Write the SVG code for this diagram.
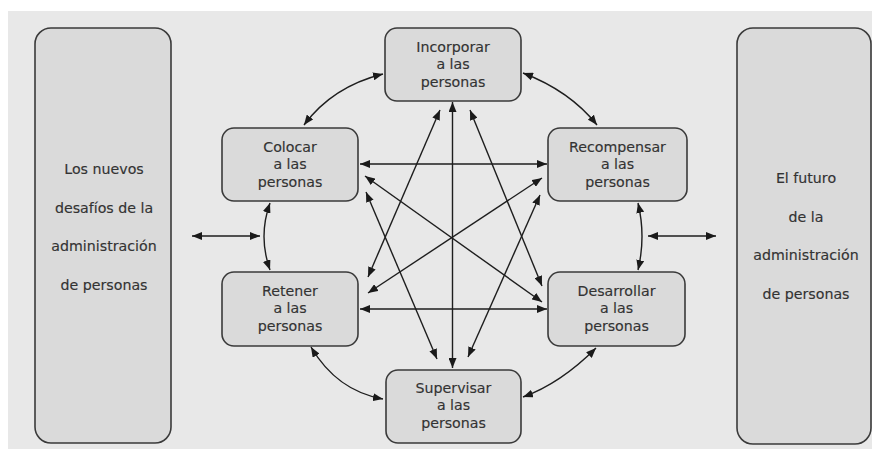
<svg xmlns="http://www.w3.org/2000/svg" width="872" height="449" viewBox="0 0 872 449">
<style>
.box{fill:#dadada;stroke:#3a3a3a;stroke-width:1.6}
.t{font-family:"DejaVu Sans","Liberation Sans",Arial,sans-serif;font-size:14.2px;fill:#333;text-anchor:middle;stroke:#333;stroke-width:0.15}
.c{fill:none;stroke:#1e1e1e;stroke-width:1.4;marker-start:url(#ah);marker-end:url(#ah)}
</style>
<defs>
<marker id="ah" viewBox="0 0 10 8" refX="10" refY="4" markerWidth="10" markerHeight="8" markerUnits="userSpaceOnUse" orient="auto-start-reverse">
<path d="M0,0 L10,4 L0,8 z" fill="#1a1a1a"/>
</marker>
</defs>
<rect x="0" y="0" width="872" height="449" fill="#ffffff"/>
<rect x="8" y="11" width="864" height="438" fill="#e8e8e8"/>

<g id="left-box">
<rect class="box" x="35" y="28" width="136" height="415" rx="16"/>
<text class="t" x="104" y="174">Los nuevos</text>
<text class="t" x="104" y="212.5">desafíos de la</text>
<text class="t" x="104" y="251">administración</text>
<text class="t" x="104" y="289.5">de personas</text>
</g>

<g id="right-box">
<rect class="box" x="737" y="28" width="134" height="416" rx="16"/>
<text class="t" x="806" y="183">El futuro</text>
<text class="t" x="806" y="222">de la</text>
<text class="t" x="806" y="260">administración</text>
<text class="t" x="806" y="299">de personas</text>
</g>

<g id="incorporar">
<rect class="box" x="385" y="28" width="136" height="73" rx="12"/>
<text class="t" x="453" y="51.5">Incorporar</text>
<text class="t" x="453" y="69">a las</text>
<text class="t" x="453" y="86.5">personas</text>
</g>

<g id="colocar">
<rect class="box" x="222" y="128" width="136" height="73" rx="12"/>
<text class="t" x="290" y="151.5">Colocar</text>
<text class="t" x="290" y="169">a las</text>
<text class="t" x="290" y="186.5">personas</text>
</g>

<g id="recompensar">
<rect class="box" x="548" y="128" width="139" height="73" rx="12"/>
<text class="t" x="617.5" y="151.5">Recompensar</text>
<text class="t" x="617.5" y="169">a las</text>
<text class="t" x="617.5" y="186.5">personas</text>
</g>

<g id="retener">
<rect class="box" x="222" y="272" width="136" height="74" rx="12"/>
<text class="t" x="290" y="295.5">Retener</text>
<text class="t" x="290" y="313">a las</text>
<text class="t" x="290" y="330.5">personas</text>
</g>

<g id="desarrollar">
<rect class="box" x="548" y="272" width="137" height="74" rx="12"/>
<text class="t" x="616.5" y="295.5">Desarrollar</text>
<text class="t" x="616.5" y="313">a las</text>
<text class="t" x="616.5" y="330.5">personas</text>
</g>

<g id="supervisar">
<rect class="box" x="386" y="370" width="135" height="73" rx="12"/>
<text class="t" x="453.5" y="392.5">Supervisar</text>
<text class="t" x="453.5" y="410">a las</text>
<text class="t" x="453.5" y="427.5">personas</text>
</g>

<g id="connectors">
<path class="c" d="M192,236 L260,236"/>
<path class="c" d="M648,236 L716,236"/>
<path class="c" d="M360,164 L547,164"/>
<path class="c" d="M360,309 L547,309"/>
<path class="c" d="M452.5,102 L452.5,368"/>
<path class="c" d="M440,110 L368,277"/>
<path class="c" d="M470,110 L542,286"/>
<path class="c" d="M365,176 L542,302"/>
<path class="c" d="M366,192 L437,359"/>
<path class="c" d="M542,178 L368,293"/>
<path class="c" d="M540,195 L468,357"/>
<path class="c" d="M304,125 Q332.5,86.5 383,74"/>
<path class="c" d="M523,73 Q570,91 597,125"/>
<path class="c" d="M270,203 Q258,236.5 270,270"/>
<path class="c" d="M638,203 Q646,236.5 638,270"/>
<path class="c" d="M311,347 Q337,391 383,399"/>
<path class="c" d="M596,348 Q560.5,383.5 523,397"/>
</g>
</svg>
